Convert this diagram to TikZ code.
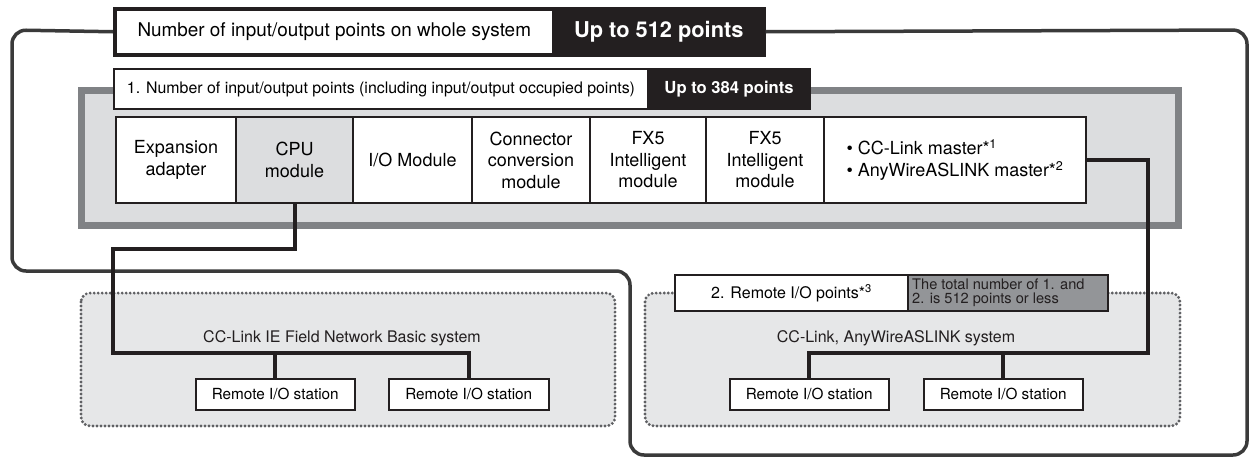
\documentclass[tikz,border=0pt]{standalone}
\usepackage{fontspec}
\setmainfont{TeX Gyre Heros}
\definecolor{dk}{HTML}{231F20}
\definecolor{ol}{HTML}{3A3A3A}
\definecolor{pb}{HTML}{808285}
\definecolor{db}{HTML}{5F6063}
\definecolor{pf}{HTML}{DCDDDF}
\definecolor{df}{HTML}{E6E7E8}
\definecolor{nf}{HTML}{939598}
\newcommand{\fs}[2]{\fontsize{#1}{#2}\selectfont}
\begin{document}
\begin{tikzpicture}[x=1pt,y=-1pt,
  cell/.style={draw=dk, line width=2pt, fill=white, anchor=north west, minimum height=86pt,
    align=center, inner sep=0pt, font=\fs{18}{21.5}},
  hdrw/.style={draw=dk, fill=white, anchor=north west, inner sep=0pt},
  hdrb/.style={draw=dk, fill=dk, anchor=north west, inner sep=0pt, text=white},
  station/.style={draw=dk, line width=1.5pt, fill=white, anchor=north west, inner sep=0pt,
    minimum height=31pt, font=\fs{15.3}{17}},
  dotbox/.style={draw=db, fill=df, line width=3.2pt, dash pattern=on 0pt off 4pt, line cap=round,
    rounded corners=9pt},
  link/.style={draw=dk, line width=4pt, line join=miter},
  outer/.style={draw=ol, line width=3.5pt, rounded corners=14pt},
  netlbl/.style={font=\fs{16}{19}, text=dk, inner sep=0pt}
]
\useasboundingbox (0,0) rectangle (1250,461);

% outer system line
\node[hdrb, line width=3.5pt, minimum width=210pt, minimum height=46pt, font=\fs{21.8}{24}\bfseries] (sysR) at (552,7) {Up to 512 points};
\node[hdrw, line width=3.5pt, minimum width=439pt, minimum height=46pt, font=\fs{18.9}{21}] (sysL) at (113,7) {Number of input/output points on whole system};
\draw[outer] (sysL.west) -- (12,30) -- (12,271) -- (630,271) -- (630,455) -- (1247,455) -- (1247,30) -- (sysR.east);

% gray panel
\draw[draw=pb, fill=pf, line width=7pt] (81.5,90.5) rectangle (1178.5,225.5);

% second header
\node[hdrb, line width=2pt, minimum width=162pt, minimum height=40pt, font=\fs{16.6}{19}\bfseries] (locR) at (647,68) {Up to 384 points};
\node[hdrw, line width=2pt, minimum width=534pt, minimum height=40pt, font=\fs{15.9}{18}] (locL) at (113,68) {1. Number of input/output points (including input/output occupied points)};

% modules
\node[cell, minimum width=120pt] (exp) at (115,116) {Expansion\\adapter};
\node[cell, minimum width=117pt, fill=pf] (cpu) at (235,116) {CPU\\module};
\node[cell, minimum width=119pt] (io) at (352,116) {I/O Module};
\node[cell, minimum width=118pt] (conv) at (471,116) {Connector\\conversion\\module};
\node[cell, minimum width=116pt] (fx1) at (589,116) {FX5\\Intelligent\\module};
\node[cell, minimum width=118pt] (fx2) at (705,116) {FX5\\Intelligent\\module};
\node[cell, minimum width=262pt, align=left] (cc) at (823,116) {\textbullet\ CC-Link master*\textsuperscript{1}\\\textbullet\ AnyWireASLINK master*\textsuperscript{2}};

% network areas
\draw[dotbox] (81,293) rectangle (615,426);
\draw[dotbox] (645,293) rectangle (1180,426);

% remote I/O points label
\node[anchor=north west, draw=dk, line width=2pt, fill=nf, minimum width=200pt, minimum height=36pt,
  inner sep=0pt] (note) at (907,274) {};
\node[anchor=west, inner sep=0pt, align=left, font=\fs{14.6}{13.6}, text=dk] (notet) at (912,292.5) {The total number of 1. and\\2. is 512 points or less};
\node[anchor=north west, draw=dk, line width=2pt, fill=white, minimum width=233pt, minimum height=36pt,
  inner sep=0pt, font=\fs{16}{17}] (rio) at (674,274) {2. Remote I/O points*\textsuperscript{3}};

% network labels
\node[netlbl] (lnet) at (342,338) {CC-Link IE Field Network Basic system};
\node[netlbl] (rnet) at (896,338) {CC-Link, AnyWireASLINK system};

% stations
\node[station, minimum width=159pt] (rs1) at (195,378) {Remote I/O station};
\node[station, minimum width=160pt] (rs2) at (388,378) {Remote I/O station};
\node[station, minimum width=159pt] (rs3) at (729,378) {Remote I/O station};
\node[station, minimum width=159pt] (rs4) at (923,378) {Remote I/O station};

% links
\coordinate (lt) at (113,249);
\coordinate (lb) at (113,353);
\coordinate (rt) at (1148,353);
\draw[link] (cpu.south) |- (lt) -- (lb) -| (rs2.north);
\draw[link] (rs1.north) -- (rs1.north |- lb);
\draw[link] (cc.east) -| (rt) -| (rs3.north);
\draw[link] (rs4.north) -- (rs4.north |- rt);
\end{tikzpicture}
\end{document}
